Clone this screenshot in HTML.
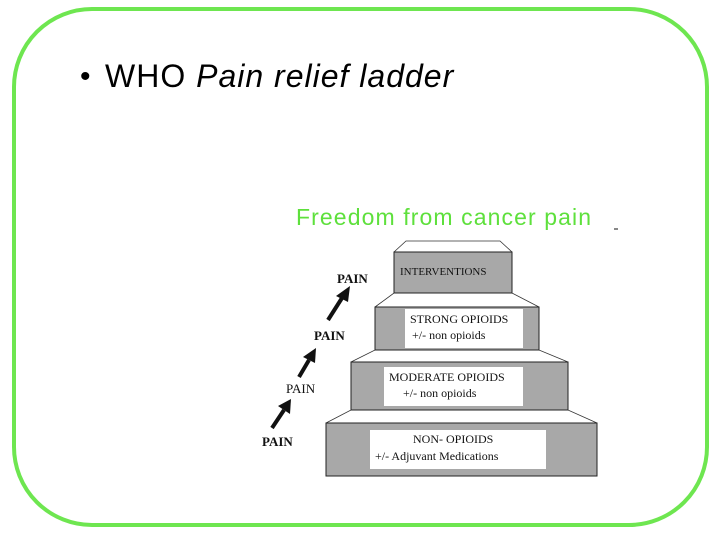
<!DOCTYPE html>
<html><head><style>
body{margin:0;width:720px;height:540px;background:#fff;overflow:hidden;position:relative;font-family:"Liberation Sans",sans-serif}
.t{position:absolute;white-space:nowrap}
.s{font-family:"Liberation Serif",serif;color:#111}
</style></head><body>
<svg width="720" height="540" style="position:absolute;left:0;top:0">
<rect x="14" y="9" width="693" height="516" rx="78" ry="78" fill="none" stroke="#6ee650" stroke-width="4"/>
<g stroke="#333" stroke-width="0.8" fill="none">
<polyline points="394,252 406,241 500,241 512,252"/>
<polyline points="375,307 394,293 512,293 539,307"/>
<polyline points="351,362 375,350 539,350 568,362"/>
<polyline points="326,423 351,410 568,410 597,423"/>
</g>
<g stroke="#222" stroke-width="1" fill="#a8a8a8">
<rect x="394" y="252" width="118" height="41"/>
<rect x="375" y="307" width="164" height="43"/>
<rect x="351" y="362" width="217" height="48"/>
<rect x="326" y="423" width="271" height="53"/>
</g>
<g fill="#fff">
<rect x="405" y="309" width="118" height="39"/>
<rect x="384" y="367" width="139" height="39"/>
<rect x="370" y="430" width="176" height="39"/>
</g>
<g stroke="#111" stroke-width="4" fill="#111">
<line x1="272" y1="428" x2="284" y2="410"/><polygon points="278,406 291,399 290,414" stroke="none"/>
<line x1="299" y1="377" x2="309" y2="360"/><polygon points="303,357 316,348 315,363" stroke="none"/>
<line x1="328" y1="320" x2="342" y2="298"/><polygon points="336,296 350,286 348,302" stroke="none"/>
<line x1="614" y1="229" x2="618" y2="229" stroke-width="1"/>
</g>
</svg>
<div class="t" style="left:80px;top:60px;font-size:30px">•</div>
<div class="t" style="left:105px;top:58px;font-size:32px;letter-spacing:1px">WHO <i>Pain relief ladder</i></div>
<div class="t" style="left:296px;top:204px;font-size:23px;letter-spacing:1.1px;color:#5ee03c">Freedom from cancer pain</div>
<div class="t s" style="left:337px;top:271px;font-size:13px;font-weight:bold">PAIN</div>
<div class="t s" style="left:314px;top:328px;font-size:13px;font-weight:bold">PAIN</div>
<div class="t s" style="left:286px;top:381px;font-size:13px">PAIN</div>
<div class="t s" style="left:262px;top:434px;font-size:13px;font-weight:bold">PAIN</div>
<div class="t s" style="left:400px;top:266px;font-size:11px">INTERVENTIONS</div>
<div class="t s" style="left:410px;top:312px;font-size:12px">STRONG OPIOIDS</div>
<div class="t s" style="left:412px;top:328px;font-size:12px">+/- non opioids</div>
<div class="t s" style="left:389px;top:370px;font-size:12px">MODERATE OPIOIDS</div>
<div class="t s" style="left:403px;top:386px;font-size:12px">+/- non opioids</div>
<div class="t s" style="left:413px;top:432px;font-size:12px">NON- OPIOIDS</div>
<div class="t s" style="left:375px;top:449px;font-size:12px">+/- Adjuvant Medications</div>
</body></html>
